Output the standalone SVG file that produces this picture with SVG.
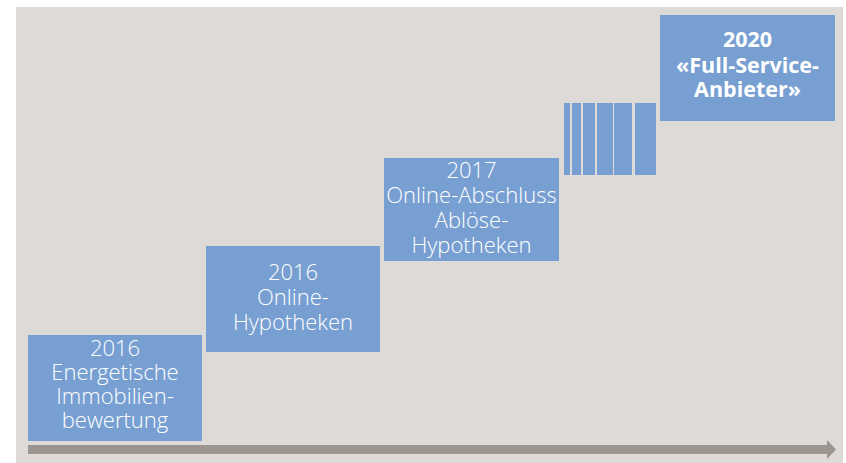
<svg xmlns="http://www.w3.org/2000/svg" width="846" height="463" viewBox="0 0 846 463">
<defs>
<style>
.bg{fill:#dddad8}
.box{fill:#789fd2}
.t{font-family:"Open Sans","Noto Sans","Liberation Sans",sans-serif;font-size:22px;font-weight:350;fill:#ffffff;text-anchor:middle}
.tb{font-family:"Open Sans","Noto Sans","Liberation Sans",sans-serif;font-size:21.5px;font-weight:700;fill:#ffffff;text-anchor:middle}
.axis{fill:#9c948f}
</style>
</defs>
<rect class="bg" x="16" y="7" width="827" height="456"/>
<g id="connectors">
<path class="axis" d="M28,445 H827 V440 L836,449.5 L827,459 V454 H28 Z"/>
</g>
<g id="node-2016-energie">
<rect class="box" x="28" y="335" width="174" height="106"/>
<text class="t" x="115" y="356">2016</text>
<text class="t" x="115" y="380">Energetische</text>
<text class="t" x="115" y="404">Immobilien-</text>
<text class="t" x="115" y="428">bewertung</text>
</g>
<g id="node-2016-online">
<rect class="box" x="206" y="246" width="174" height="106"/>
<text class="t" x="293" y="280">2016</text>
<text class="t" x="293" y="305">Online-</text>
<text class="t" x="293" y="330">Hypotheken</text>
</g>
<g id="node-2017">
<rect class="box" x="384" y="158" width="175" height="103"/>
<text class="t" x="471.5" y="178">2017</text>
<text class="t" x="471.5" y="203">Online-Abschluss</text>
<text class="t" x="471.5" y="228">Ablöse-</text>
<text class="t" x="471.5" y="253">Hypotheken</text>
</g>
<g id="node-bars">
<rect class="box" x="564" y="103" width="6" height="72"/>
<rect class="box" x="572" y="103" width="9" height="72"/>
<rect class="box" x="583" y="103" width="12" height="72"/>
<rect class="box" x="597" y="103" width="16" height="72"/>
<rect class="box" x="614" y="103" width="18" height="72"/>
<rect class="box" x="635" y="103" width="21" height="72"/>
</g>
<g id="node-2020">
<rect class="box" x="660" y="15" width="175" height="106"/>
<text class="tb" x="747.5" y="47">2020</text>
<text class="tb" x="747.5" y="73">«Full-Service-</text>
<text class="tb" x="747.5" y="97">Anbieter»</text>
</g>
</svg>
